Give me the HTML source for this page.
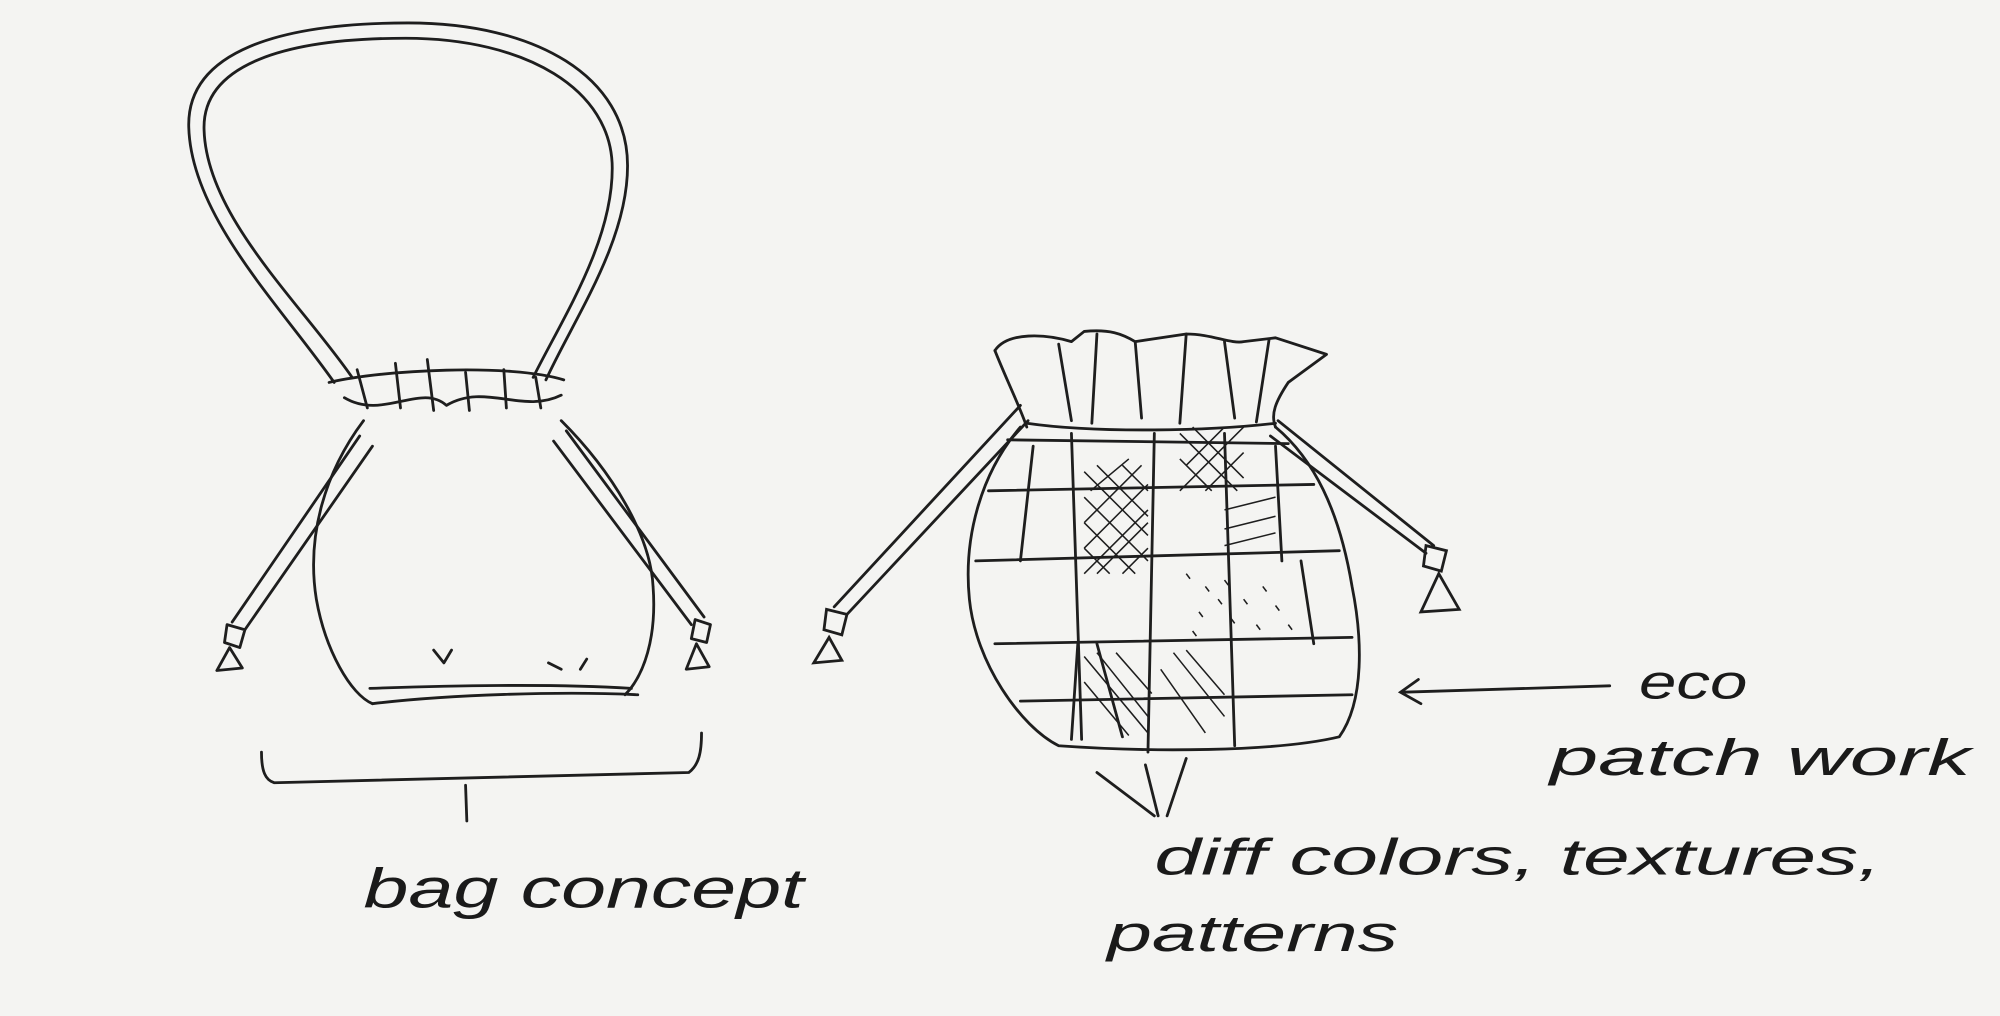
<!DOCTYPE html>
<html><head><meta charset="utf-8"><style>
html,body{margin:0;padding:0;background:#f4f4f2;}
svg{display:block;}
text{font-family:"Liberation Sans",sans-serif;fill:#1a1a1a;font-style:italic;font-weight:300;}
</style></head><body>
<svg width="2000" height="1016" viewBox="0 0 1568 797" preserveAspectRatio="none" xmlns="http://www.w3.org/2000/svg">
<rect width="1568" height="797" fill="#f4f4f2"/>
<g fill="none" stroke="#1e1e1e" stroke-width="2.2" stroke-linecap="round" stroke-linejoin="round">
<path d="M262,300 C220,240 150,170 148,100 C146,40 220,18 320,18 C420,18 492,60 492,130 C492,190 450,250 428,298"/>
<path d="M276,296 C236,238 162,170 160,102 C158,50 225,30 318,30 C412,30 480,70 480,132 C480,190 442,248 418,296"/>
<path d="M258,300 C300,290 400,285 442,298"/>
<path d="M270,312 C300,330 330,300 350,318 C380,300 410,325 440,310"/>
<path d="M280,290 l8,30 M310,285 l4,35 M335,282 l5,40 M365,292 l3,30 M395,290 l2,30 M420,296 l4,24"/>
<path d="M285,330 C255,370 240,420 248,470 C255,510 275,545 292,552"/>
<path d="M440,330 C480,370 510,420 512,460 C515,500 505,530 490,545"/>
<path d="M292,552 C350,545 440,542 500,545"/>
<path d="M290,540 C350,538 430,536 495,540"/>
<path d="M340,510 l8,10 l6,-10 M430,520 l10,5 M455,525 l5,-8"/>
<path d="M282,342 L182,488 M292,350 L192,494"/>
<path d="M444,338 L552,484 M434,346 L542,490"/>
<path d="M178,490 l14,4 l-4,14 l-12,-4 z M180,508 l-10,18 l20,-2 z"/>
<path d="M545,486 l12,4 l-3,14 l-12,-3 z M546,505 l-8,20 l18,-2 z"/>
<path d="M205,590 C205,605 208,612 215,614 L540,606 C548,600 550,590 550,575"/>
<path d="M365,616 L366,644"/>
<path d="M780,275 C790,260 820,262 840,268 L850,260 C870,258 880,262 890,268 L930,262 C950,262 965,270 975,268 L1000,265 L1040,278 L1010,300 C1000,315 996,325 1000,335"/>
<path d="M780,275 C790,300 800,320 805,335"/>
<path d="M805,332 C860,340 950,338 1000,332"/>
<path d="M830,270 l10,60 M860,262 l-4,70 M890,268 l5,60 M930,262 l-5,70 M960,268 l8,60 M995,266 l-10,65"/>
<path d="M800,335 C770,370 755,420 760,470 C765,520 800,570 830,585 C900,590 1000,590 1050,578 C1070,550 1068,500 1060,460 C1050,400 1030,360 1000,335"/>
<path d="M790,345 L1010,348 M775,385 L1030,380 M765,440 L1050,432 M780,505 L1060,500 M800,550 L1060,545"/>
<path d="M840,340 L848,580 M905,340 L900,590 M960,340 L968,585 M810,350 L800,440 M1000,350 L1005,440 M1020,440 L1030,505"/>
<path d="M845,505 L840,580 M860,505 L880,578"/>
</g>
<g stroke="#1e1e1e" stroke-width="1.2" fill="none">
<path d="M850,370 l50,50 M850,390 l50,50 M850,410 l40,40 M850,430 l20,20 M860,365 l40,40 M880,365 l20,20 M850,450 l50,-50 M850,430 l50,-50 M850,410 l45,-45 M860,450 l40,-40 M880,450 l20,-20 M855,385 l30,-25"/>
<path d="M925,340 l45,45 M935,335 l40,40 M925,360 l25,25 M925,385 l50,-50 M930,365 l30,-30 M945,385 l30,-30"/>
<path d="M850,515 l50,60 M860,512 l40,50 M875,512 l28,32 M850,535 l35,42 M920,512 l40,50 M930,510 l30,35 M910,525 l35,50"/>
<path d="M930,450 l3,4 M945,460 l3,4 M960,455 l3,4 M975,470 l3,4 M990,460 l3,4 M940,480 l3,4 M965,485 l3,4 M985,490 l3,4 M1000,475 l3,4 M955,470 l3,4 M935,495 l3,4 M1010,490 l3,4"/>
<path d="M960,400 l40,-10 M960,415 l40,-10 M960,428 l40,-10"/>
</g>
<g fill="none" stroke="#1e1e1e" stroke-width="2.2" stroke-linecap="round">
<path d="M800,318 L654,476 M806,330 L664,482"/>
<path d="M1002,330 L1124,428 M996,342 L1118,434"/>
<path d="M648,478 l16,4 l-4,16 l-14,-4 z M650,500 l-12,20 l22,-2 z"/>
<path d="M1118,428 l16,4 l-4,16 l-14,-4 z M1128,450 l-14,30 l30,-2 z"/>
<path d="M1262,538 L1100,543 M1112,533 L1098,543 L1114,552"/>
<path d="M860,606 L905,640 M898,600 L908,640 M930,595 L915,640"/>
</g>
<text x="1285" y="548" font-size="38" textLength="85" lengthAdjust="spacingAndGlyphs">eco</text>
<text x="1215" y="608" font-size="40" textLength="330" lengthAdjust="spacingAndGlyphs">patch work</text>
<text x="285" y="712" font-size="44" textLength="345" lengthAdjust="spacingAndGlyphs">bag concept</text>
<text x="905" y="686" font-size="40" textLength="570" lengthAdjust="spacingAndGlyphs">diff colors, textures,</text>
<text x="868" y="746" font-size="40" textLength="228" lengthAdjust="spacingAndGlyphs">patterns</text>
</svg>
</body></html>
